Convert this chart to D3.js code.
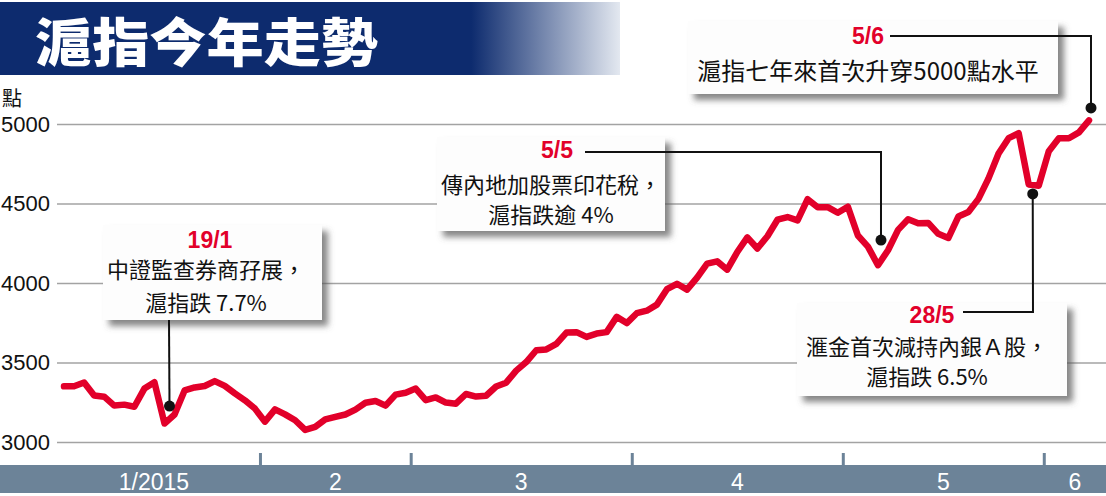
<!DOCTYPE html>
<html><head><meta charset="utf-8">
<script src="https://cdn.jsdelivr.net/npm/d3@7/dist/d3.min.js"></script>
<style>
html,body{margin:0;padding:0;background:#fff;}
svg{display:block;}
</style></head>
<body>
<svg id="c" width="1106" height="496"></svg>
<script>
// ---------- data ----------
const title = "滬指今年走勢";
const unitLabel = "點";
const dates = [
 "2015-01-05","2015-01-06","2015-01-07","2015-01-08","2015-01-09","2015-01-12","2015-01-13","2015-01-14","2015-01-15","2015-01-16",
 "2015-01-19","2015-01-20","2015-01-21","2015-01-22","2015-01-23","2015-01-26","2015-01-27","2015-01-28","2015-01-29","2015-01-30",
 "2015-02-02","2015-02-03","2015-02-04","2015-02-05","2015-02-06","2015-02-09","2015-02-10","2015-02-11","2015-02-12","2015-02-13",
 "2015-02-16","2015-02-17","2015-02-25","2015-02-26","2015-02-27",
 "2015-03-02","2015-03-03","2015-03-04","2015-03-05","2015-03-06","2015-03-09","2015-03-10","2015-03-11","2015-03-12","2015-03-13",
 "2015-03-16","2015-03-17","2015-03-18","2015-03-19","2015-03-20","2015-03-23","2015-03-24","2015-03-25","2015-03-26","2015-03-27",
 "2015-03-30","2015-03-31",
 "2015-04-01","2015-04-02","2015-04-03","2015-04-07","2015-04-08","2015-04-09","2015-04-10","2015-04-13","2015-04-14","2015-04-15",
 "2015-04-16","2015-04-17","2015-04-20","2015-04-21","2015-04-22","2015-04-23","2015-04-24","2015-04-27","2015-04-28","2015-04-29","2015-04-30",
 "2015-05-04","2015-05-05","2015-05-06","2015-05-07","2015-05-08","2015-05-11","2015-05-12","2015-05-13","2015-05-14","2015-05-15",
 "2015-05-18","2015-05-19","2015-05-20","2015-05-21","2015-05-22","2015-05-25","2015-05-26","2015-05-27","2015-05-28","2015-05-29",
 "2015-06-01","2015-06-02","2015-06-03","2015-06-04","2015-06-05"
];
const values = [
 3350,3351,3374,3293,3285,3229,3235,3222,3336,3376,
 3116,3173,3324,3343,3352,3383,3353,3306,3262,3210,
 3128,3205,3174,3137,3076,3095,3142,3158,3173,3204,
 3247,3258,3229,3298,3310,
 3336,3263,3280,3248,3241,3302,3286,3291,3349,3373,
 3449,3503,3577,3582,3617,3688,3691,3661,3682,3691,
 3787,3748,
 3810,3826,3864,3961,3995,3958,4034,4122,4136,4084,
 4195,4287,4217,4294,4398,4415,4394,4527,4476,4477,4442,
 4480,4299,4229,4112,4206,4334,4401,4376,4378,4309,
 4283,4418,4446,4529,4658,4814,4911,4942,4620,4612,
 4829,4911,4910,4947,5023
];
const yTicks = [3000, 3500, 4000, 4500, 5000];
const monthLabels = ["1/2015", "2", "3", "4", "5", "6"];

// annotations: date label, text lines, anchor (trading-day index, index value)
const annLabels = ["19/1", "5/5", "28/5", "5/6"];
const annLines = [
  ["中證監查券商孖展，", "滬指跌 7.7%"],
  ["傳內地加股票印花稅，", "滬指跌逾 4%"],
  ["滙金首次減持內銀Ａ股，", "滬指跌 6.5%"],
  ["滬指七年來首次升穿5000點水平"]
];
const annAnchorIdx = [10.5, 81.3, 96.4, 102.2];
const annAnchorVal = [3226, 4270, 4560, 5101];

// ---------- layout ----------
const W = 1106, H = 496;
const svg = d3.select("#c");
const RED = "#e2002a";
const NAVY = "#0d2b6e";
const BAND = "#6c8398";

const x = d3.scaleLinear().domain([0, dates.length - 1]).range([64, 1089]);
const y = d3.scaleLinear().domain([3000, 5000]).range([442, 124]);

const defs = svg.append("defs");
const grad = defs.append("linearGradient").attr("id", "tg")
  .attr("gradientUnits", "userSpaceOnUse").attr("x1", 0).attr("x2", 620).attr("y1", 0).attr("y2", 0);
grad.append("stop").attr("offset", "0").attr("stop-color", NAVY);
grad.append("stop").attr("offset", "0.76").attr("stop-color", NAVY);
grad.append("stop").attr("offset", "1").attr("stop-color", "#e3e8f0");

const sh = defs.append("filter").attr("id", "sh").attr("x", "-10%").attr("y", "-10%").attr("width", "130%").attr("height", "140%");
sh.append("feDropShadow").attr("dx", 6).attr("dy", 6).attr("stdDeviation", 3)
  .attr("flood-color", "#555").attr("flood-opacity", 0.7);

// title banner
svg.append("rect").attr("x", 0).attr("y", 2).attr("width", 620).attr("height", 73).attr("fill", "url(#tg)");
svg.append("text").attr("x", 35).attr("y", 62)
  .attr("font-family", "'Noto Sans CJK TC','Noto Sans CJK SC',sans-serif")
  .attr("font-weight", 900).attr("font-size", 52).attr("fill", "#fff")
  .attr("textLength", 343).attr("lengthAdjust", "spacingAndGlyphs")
  .text(title);

// unit label
svg.append("text").attr("x", 2).attr("y", 106)
  .attr("font-family", "'Noto Sans CJK TC',sans-serif").attr("font-size", 20).attr("fill", "#111")
  .text(unitLabel);

// y axis + gridlines
const yAxis = svg.append("g").attr("transform", "translate(57,0)")
  .call(d3.axisLeft(y).tickValues(yTicks).tickSize(-(W - 57)).tickPadding(7).tickFormat(d3.format("d")));
yAxis.select(".domain").remove();
yAxis.selectAll(".tick line").attr("stroke", "#a3a3a3").attr("stroke-width", 1.5);
yAxis.selectAll(".tick text").attr("font-family", "'Liberation Sans',Arial,sans-serif")
  .attr("font-size", 22).attr("fill", "#111");

// x band
svg.append("rect").attr("x", 0).attr("y", 465).attr("width", W).attr("height", 28).attr("fill", BAND);
// month boundaries
const monthOf = dates.map(d => +d.slice(5, 7));
const boundaries = [];
for (let i = 1; i < dates.length; i++) if (monthOf[i] !== monthOf[i - 1]) boundaries.push(i - 0.5);
const xAxis = svg.append("g").attr("transform", "translate(0,466)")
  .call(d3.axisTop(x).tickValues(boundaries).tickSize(13).tickFormat(""));
xAxis.select(".domain").remove();
xAxis.selectAll(".tick line").attr("stroke", BAND).attr("stroke-width", 3);

// month labels centered in each month span
const months = Array.from(new Set(monthOf));
months.forEach((m, k) => {
  const idx = monthOf.map((v, i) => v === m ? i : -1).filter(i => i >= 0);
  let a = x(idx[0] - 0.5), b = x(idx[idx.length - 1] + 0.5);
  if (k === 0) a = 48;
  if (k === months.length - 1) b = W;
  svg.append("text").attr("x", (a + b) / 2).attr("y", 490).attr("text-anchor", "middle")
    .attr("font-family", "'Liberation Sans',Arial,sans-serif").attr("font-size", 23).attr("fill", "#fff")
    .text(monthLabels[k]);
});

// line
svg.append("path").datum(values)
  .attr("d", d3.line().x((d, i) => x(i)).y(d => y(d)))
  .attr("fill", "none").attr("stroke", RED).attr("stroke-width", 6.5)
  .attr("stroke-linejoin", "round").attr("stroke-linecap", "round");

// annotation boxes
const boxes = [
  {x: 103, y: 225, w: 219, h: 95, lx: 210, ly: 248, tx: 206, ty: [278, 311], fs: 22},
  {x: 437, y: 137, w: 228, h: 94, lx: 557, ly: 158, tx: 551, ty: [193, 223], fs: 22},
  {x: 797, y: 303, w: 270, h: 93, lx: 932, ly: 323, tx: 927, ty: [355, 385], fs: 22},
  {x: 688, y: 21, w: 370, h: 73, lx: 868, ly: 44, tx: 868, ty: [80], fs: 24}
];
// connector paths: from label/ box to anchor
const connStart = [
  [[169, 320]],
  [[585, 152], [881, 152]],
  [[963, 312], [1033, 312]],
  [[890, 36], [1091, 36]]
];
boxes.forEach((b, k) => {
  svg.append("rect").attr("x", b.x).attr("y", b.y).attr("width", b.w).attr("height", b.h)
    .attr("fill", "#fdfdfd").attr("filter", "url(#sh)");
});
boxes.forEach((b, k) => {
  const ax = x(annAnchorIdx[k]), ay = y(annAnchorVal[k]);
  const pts = connStart[k].concat([[ax, ay]]);
  svg.append("path").attr("d", d3.line()(pts)).attr("fill", "none")
    .attr("stroke", "#111").attr("stroke-width", 2);
  svg.append("circle").attr("cx", ax).attr("cy", ay).attr("r", 5.5).attr("fill", "#111");
  svg.append("text").attr("x", b.lx).attr("y", b.ly).attr("text-anchor", "middle")
    .attr("font-family", "'Liberation Sans',Arial,sans-serif").attr("font-weight", "bold")
    .attr("font-size", 23).attr("fill", RED).text(annLabels[k]);
  annLines[k].forEach((t, j) => {
    svg.append("text").attr("x", b.tx).attr("y", b.ty[j]).attr("text-anchor", "middle")
      .attr("font-family", "'Noto Sans CJK TC','Noto Sans CJK SC',sans-serif")
      .attr("font-size", b.fs).attr("fill", "#111").text(t);
  });
});
</script>
</body></html>
